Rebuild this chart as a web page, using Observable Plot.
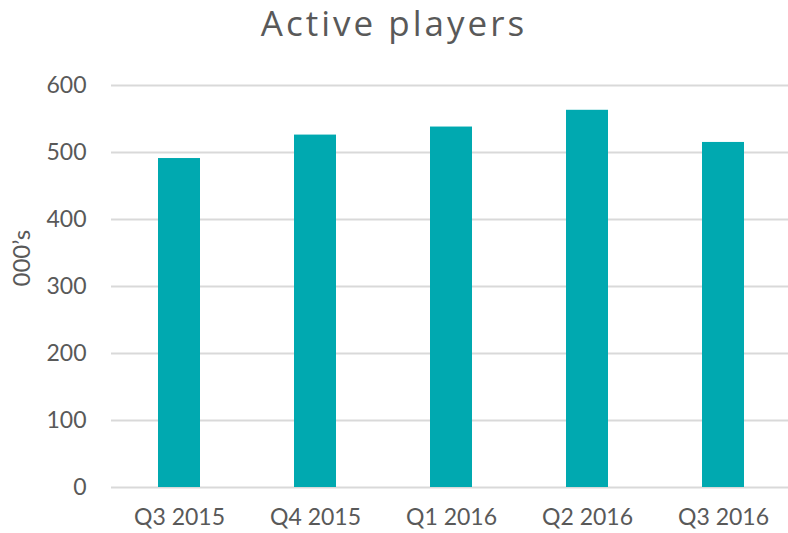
<!DOCTYPE html>
<html>
<head>
<meta charset="utf-8">
<script src="https://cdn.jsdelivr.net/npm/d3@7"></script>
<script src="https://cdn.jsdelivr.net/npm/@observablehq/plot@0.6"></script>
<style>
  html, body { margin: 0; padding: 0; background: #fff; overflow: hidden; }
  #wrap { position: relative; width: 788px; height: 533px; }
  #title { position: absolute; left: 0; top: 5px; width: 788px; text-align: center; line-height: 35px;
           font-family: "Open Sans", sans-serif; font-size: 35px; letter-spacing: 3px; color: #595959; z-index: 2; }
  #chart { position: absolute; left: 0; top: 0; }
</style>
</head>
<body>
<div id="wrap">
  <div id="title">Active players</div>
  <div id="chart"></div>
</div>
<script>
const quarters = ["Q3 2015", "Q4 2015", "Q1 2016", "Q2 2016", "Q3 2016"];
const players = [491, 526, 538, 563, 515];
const yTicks = [0, 100, 200, 300, 400, 500, 600];

const data = quarters.map((q, i) => ({quarter: q, value: players[i]}));

const chart = Plot.plot({
  width: 788,
  height: 533,
  marginTop: 85,
  marginBottom: 46,
  marginLeft: 111,
  marginRight: 0,
  style: {fontFamily: "Lato, sans-serif", fontSize: "23px", color: "#595959", background: "transparent"},
  x: {domain: quarters, range: [111, 792], paddingInner: 0.69, paddingOuter: 0.345, label: null},
  y: {domain: [0, 600], ticks: yTicks, label: null},
  marks: [
    Plot.ruleY(yTicks, {stroke: "#d9d9d9", strokeWidth: 2, strokeOpacity: 1}),
    Plot.barY(data, {x: "quarter", y: "value", fill: "#00a9b0"}),
    Plot.axisY({ticks: yTicks, tickSize: 0, tickPadding: 25, fontSize: 23, label: null}),
    Plot.axisX({tickSize: 0, tickPadding: 21, fontSize: 23, label: null}),
    Plot.text(["000’s"], {frameAnchor: "left", dx: -89, rotate: -90, fontSize: 24, fill: "#595959"})
  ]
});
document.getElementById("chart").appendChild(chart);
</script>
</body>
</html>
